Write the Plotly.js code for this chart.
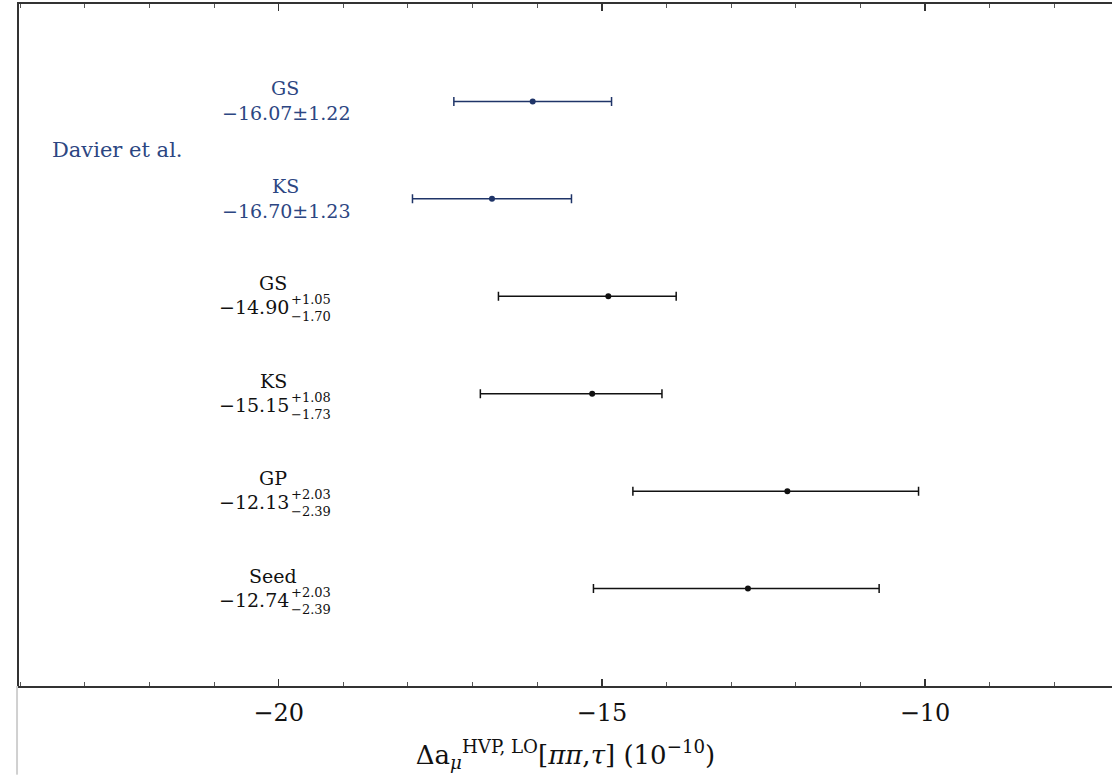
<!DOCTYPE html>
<html>
<head>
<meta charset="utf-8">
<script src="https://cdn.plot.ly/plotly-3.0.1.min.js"></script>
<style>
  html, body { margin: 0; padding: 0; background: #ffffff; }
  #chart { width: 1112px; height: 780px; }
</style>
</head>
<body>
<div id="chart"></div>
<script>
// ---- data ----
const methods   = ["GS", "KS", "GS", "KS", "GP", "Seed"];
const groups    = ["Davier et al.", "Davier et al.", "this work", "this work", "this work", "this work"];
const centers   = [-16.07, -16.70, -14.90, -15.15, -12.13, -12.74];
const errPlus   = [1.22, 1.23, 1.05, 1.08, 2.03, 2.03];
const errMinus  = [1.22, 1.23, 1.70, 1.73, 2.39, 2.39];
const rowPos    = [6, 5, 4, 3, 2, 1];
const groupLabel = "Davier et al.";
const tickVals  = [-20, -15, -10];
const tickText  = ["\u221220", "\u221215", "\u221210"];

// ---- styling ----
const NAVY = "#1f3468";
const NAVY_TXT = "#2c4682";
const BLACK = "#111111";
const FONT = "DejaVu Serif, Liberation Serif, serif";

const W = 1112, H = 780;
const margin = {l: 19, r: 0, t: 4, b: 94};
const plotW = W - margin.l - margin.r;
function px2paper(px) { return (px - margin.l) / plotW; }

function fmt(v) { return (v < 0 ? "\u2212" : "") + Math.abs(v).toFixed(2); }

const traces = [];
const isDavier = groups.map(g => g === groupLabel);
[true, false].forEach(flag => {
  const idx = centers.map((_, i) => i).filter(i => isDavier[i] === flag);
  const col = flag ? NAVY : BLACK;
  traces.push({
    type: "scatter", mode: "markers",
    x: idx.map(i => centers[i]),
    y: idx.map(i => rowPos[i]),
    marker: {color: col, size: 6},
    error_x: {type: "data", symmetric: false,
              array: idx.map(i => errPlus[i]),
              arrayminus: idx.map(i => errMinus[i]),
              color: col, thickness: 1.5, width: 4.5},
    hoverinfo: "skip", showlegend: false
  });
});

const annotations = [];
centers.forEach((c, i) => {
  if (isDavier[i]) {
    annotations.push({xref: "paper", yref: "y", x: px2paper(285), y: rowPos[i], yshift: 13,
      text: methods[i], showarrow: false, xanchor: "center", yanchor: "middle",
      font: {family: FONT, size: 19, color: NAVY_TXT}});
    annotations.push({xref: "paper", yref: "y", x: px2paper(286), y: rowPos[i], yshift: -12,
      text: fmt(c) + "\u00b1" + errPlus[i].toFixed(2), showarrow: false, xanchor: "center", yanchor: "middle",
      font: {family: FONT, size: 19, color: NAVY_TXT}});
  } else {
    annotations.push({xref: "paper", yref: "y", x: px2paper(273), y: rowPos[i], yshift: 13,
      text: methods[i], showarrow: false, xanchor: "center", yanchor: "middle",
      font: {family: FONT, size: 19, color: BLACK}});
    annotations.push({xref: "paper", yref: "y", x: px2paper(291), y: rowPos[i], yshift: -11,
      text: fmt(c), showarrow: false, xanchor: "right", yanchor: "middle",
      font: {family: FONT, size: 19, color: BLACK}});
    annotations.push({xref: "paper", yref: "y", x: px2paper(289), y: rowPos[i], yshift: -12,
      text: "+" + errPlus[i].toFixed(2) + "<br>\u2212" + errMinus[i].toFixed(2),
      showarrow: false, xanchor: "left", yanchor: "middle", align: "left",
      font: {family: FONT, size: 13, color: BLACK}});
  }
});
annotations.push({xref: "paper", yref: "y", x: px2paper(117), y: 5.5,
  text: groupLabel, showarrow: false, xanchor: "center", yanchor: "middle",
  font: {family: FONT, size: 21, color: NAVY_TXT}});

const layout = {
  width: W, height: H,
  margin: margin,
  paper_bgcolor: "#ffffff", plot_bgcolor: "#ffffff",
  showlegend: false,
  xaxis: {
    range: [-24.018, -7.107],
    tickvals: tickVals, ticktext: tickText,
    ticks: "inside", ticklen: 7, tickwidth: 1.5, tickcolor: "#333",
    minor: {dtick: 1, ticks: "inside", ticklen: 4, tickwidth: 1, tickcolor: "#555"},
    showline: true, linecolor: "#333", linewidth: 2, mirror: "ticks",
    showgrid: false, zeroline: false,
    ticklabelstandoff: 4,
    tickfont: {family: FONT, size: 24, color: "#111"},
    title: {text: "\u0394a<sub><i>\u03bc</i></sub><sup>HVP, LO</sup>[<i>\u03c0\u03c0</i>,<i>\u03c4</i>] (10<sup>\u221210</sup>)",
            font: {family: FONT, size: 26, color: "#111"}, standoff: 20}
  },
  yaxis: {
    range: [0, 7],
    showticklabels: false, ticks: "", showgrid: false, zeroline: false,
    showline: true, linecolor: "#333", linewidth: 2, mirror: false
  },
  annotations: annotations,
  shapes: [
    {type: "line", xref: "paper", yref: "paper", x0: -0.0018, x1: -0.0018, y0: 0, y1: -0.13,
     line: {color: "#d0d0d0", width: 2}}
  ]
};

Plotly.newPlot("chart", traces, layout, {displayModeBar: false, staticPlot: true});
</script>
</body>
</html>
